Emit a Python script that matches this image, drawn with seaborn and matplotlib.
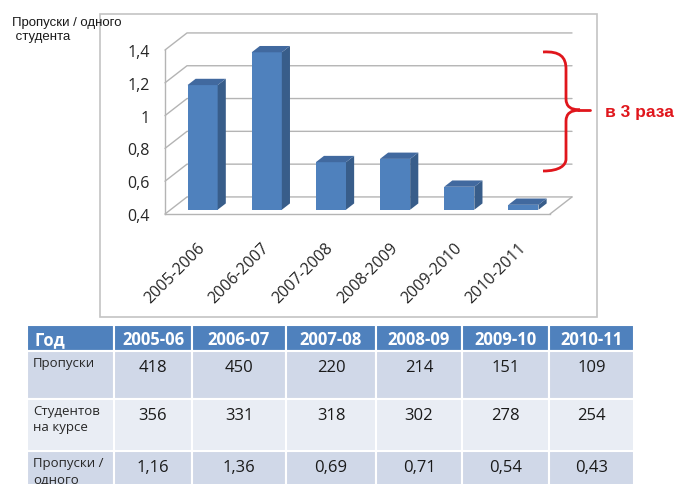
import matplotlib
matplotlib.use("Agg")
import matplotlib.pyplot as plt
import seaborn as sns
from matplotlib.patches import Rectangle, Polygon, PathPatch
from matplotlib.path import Path
from matplotlib.lines import Line2D

# ---- data ----
seasons = ["2005-2006", "2006-2007", "2007-2008", "2008-2009", "2009-2010", "2010-2011"]
table_years = ["2005-06", "2006-07", "2007-08", "2008-09", "2009-10", "2010-11"]
absences = [418, 450, 220, 214, 151, 109]
students = [356, 331, 318, 302, 278, 254]
per_student = [1.16, 1.36, 0.69, 0.71, 0.54, 0.43]
y_ticks = [0.4, 0.6, 0.8, 1.0, 1.2, 1.4]
row_labels = ["Пропуски", "Студентов\nна курсе", "Пропуски /\nодного"]

sns.set_style("white")
plt.rcParams["font.family"] = ["Open Sans", "DejaVu Sans"]

W, H = 678, 485
fig = plt.figure(figsize=(W / 100, H / 100), dpi=100)


def fx(x):
    return x / W


def fy(y):
    return 1 - y / H


def fc(x, y):
    return (fx(x), fy(y))


# chart frame
fig.add_artist(Rectangle(fc(100, 318), fx(597) - fx(100), fy(15) - fy(318),
                         transform=fig.transFigure, fill=False,
                         edgecolor="#c4c4c4", lw=1.2))

# front plane of the pseudo-3D plot
ax = fig.add_axes([fx(165), fy(215), fx(550) - fx(165), fy(51) - fy(215)])

FRONT = "#4f81bd"
SIDE = "#385d8a"
TOP = "#41699f"
GRID = "#b4b4b4"

sns.barplot(x=seasons, y=per_student, color=FRONT, saturation=1,
            width=0.47, ax=ax, zorder=3)

ymin, ymax = 0.4, 1.4
ax.set_xlim(-0.5, len(seasons) - 0.5)
ax.set_ylim(ymin, ymax)

# depth of the box in data units
DX, DY = 0.343, 0.104
f0 = 0.25   # position of bar front faces inside the depth
bd = 0.37   # bar depth

xr_end = len(seasons) - 0.5
# walls: left wall diagonals + back wall gridlines
for t in y_ticks:
    ax.add_line(Line2D([-0.5, -0.5 + DX, xr_end + DX], [t, t + DY, t + DY],
                       color=GRID, lw=1.0, clip_on=False, zorder=1))
# floor right edge
ax.add_line(Line2D([xr_end, xr_end + DX], [ymin, ymin + DY],
                   color=GRID, lw=1.0, clip_on=False, zorder=1))

for patch, v in zip(ax.patches, per_student):
    x0 = patch.get_x() + f0 * DX
    w = patch.get_width()
    y0 = ymin + f0 * DY
    y1 = v + f0 * DY
    patch.set_x(x0)
    patch.set_y(y0)
    patch.set_height(y1 - y0)
    patch.set_edgecolor("none")
    patch.set_clip_on(False)
    xr = x0 + w
    side = Polygon([(xr, y0), (xr, y1), (xr + bd * DX, y1 + bd * DY),
                    (xr + bd * DX, y0 + bd * DY)], closed=True,
                   facecolor=SIDE, edgecolor="none", zorder=3, clip_on=False)
    top = Polygon([(x0, y1), (xr, y1), (xr + bd * DX, y1 + bd * DY),
                   (x0 + bd * DX, y1 + bd * DY)], closed=True,
                  facecolor=TOP, edgecolor="none", zorder=3, clip_on=False)
    ax.add_patch(side)
    ax.add_patch(top)

for s in ["top", "right"]:
    ax.spines[s].set_visible(False)
for s in ["left", "bottom"]:
    ax.spines[s].set_color(GRID)
    ax.spines[s].set_linewidth(1.0)

ax.set_yticks(y_ticks)
ax.set_yticklabels([f"{t:g}".replace(".", ",") for t in y_ticks], fontsize=11.5)
ax.tick_params(axis="y", direction="out", length=5, width=1, color=GRID, pad=6)

ax.set_xticks(range(len(seasons)))
ax.set_xticklabels(seasons, rotation=45, ha="right", rotation_mode="anchor",
                   fontsize=11.5)
ax.set_xticks([i - 0.5 for i in range(len(seasons) + 1)], minor=True)
ax.tick_params(axis="x", which="major", length=0, pad=18)
ax.tick_params(axis="x", which="minor", direction="out", length=5, width=1,
               color=GRID)
ax.set_xlabel("")
ax.set_ylabel("")
ax.patch.set_alpha(0)

# axis caption
fig.text(fx(12), fy(30), "Пропуски / одного\n студента", fontsize=9.5,
         family=["Liberation Sans", "DejaVu Sans"], va="center", ha="left",
         linespacing=1.15, color="#1a1a1a")

# red brace
RED = "#e0161c"
verts = [fc(543, 53), fc(560, 52), fc(566, 58), fc(566, 70),
         fc(566, 100), fc(566, 111), fc(580, 111),
         fc(566, 111), fc(566, 122), fc(566, 160),
         fc(566, 166), fc(560, 172), fc(543, 172)]
codes = [Path.MOVETO, Path.CURVE4, Path.CURVE4, Path.CURVE4,
         Path.LINETO, Path.CURVE3, Path.CURVE3,
         Path.CURVE3, Path.CURVE3, Path.LINETO,
         Path.CURVE4, Path.CURVE4, Path.CURVE4]
fig.add_artist(PathPatch(Path(verts, codes), transform=fig.transFigure,
                         fill=False, edgecolor=RED, lw=2))
fig.add_artist(Line2D([fx(578), fx(590)], [fy(111), fy(111)],
                      transform=fig.transFigure, color=RED, lw=2))
fig.text(fx(605), fy(112), "в 3 раза", color=RED, fontsize=12.5,
         fontweight="bold", family=["Liberation Sans", "DejaVu Sans"],
         ha="left", va="center")

# ---- table ----
col_edges = [27, 114, 192, 286, 376, 462, 549, 634]
row_edges = [326, 352, 400, 452, 505]
HEAD = "#4f81bd"
row_colors = ["#d0d8e8", "#e9edf4", "#d0d8e8"]


def cell(c, r, color):
    x0, x1 = col_edges[c], col_edges[c + 1]
    y0, y1 = row_edges[r], row_edges[r + 1]
    fig.add_artist(Rectangle(fc(x0, y1), fx(x1) - fx(x0), fy(y0) - fy(y1),
                             transform=fig.transFigure, facecolor=color,
                             edgecolor="white", lw=1.5, clip_on=False))


for c in range(len(col_edges) - 1):
    cell(c, 0, HEAD)
    for r in range(3):
        cell(c, r + 1, row_colors[r])

head_y = (row_edges[0] + row_edges[1]) / 2 + 1
fig.text(fx(35), fy(head_y), "Год", color="white", fontsize=12,
         fontweight="bold", ha="left", va="center")
for i, yr in enumerate(table_years):
    cx = (col_edges[i + 1] + col_edges[i + 2]) / 2
    fig.text(fx(cx), fy(head_y), yr, color="white", fontsize=12,
             fontweight="bold", ha="center", va="center")

rows = [
    [str(v) for v in absences],
    [str(v) for v in students],
    [f"{v:.2f}".replace(".", ",") for v in per_student],
]
for r, (lab, vals) in enumerate(zip(row_labels, rows)):
    top_y = row_edges[r + 1]
    fig.text(fx(33), fy(top_y + 5), lab, fontsize=9.5, color="#262626",
             ha="left", va="top", linespacing=1.35)
    for i, s in enumerate(vals):
        cx = (col_edges[i + 1] + col_edges[i + 2]) / 2
        fig.text(fx(cx), fy(top_y + 16), s, fontsize=12, color="#1a1a1a",
                 ha="center", va="center")

fig.savefig("out.png", dpi=100, facecolor="white")
